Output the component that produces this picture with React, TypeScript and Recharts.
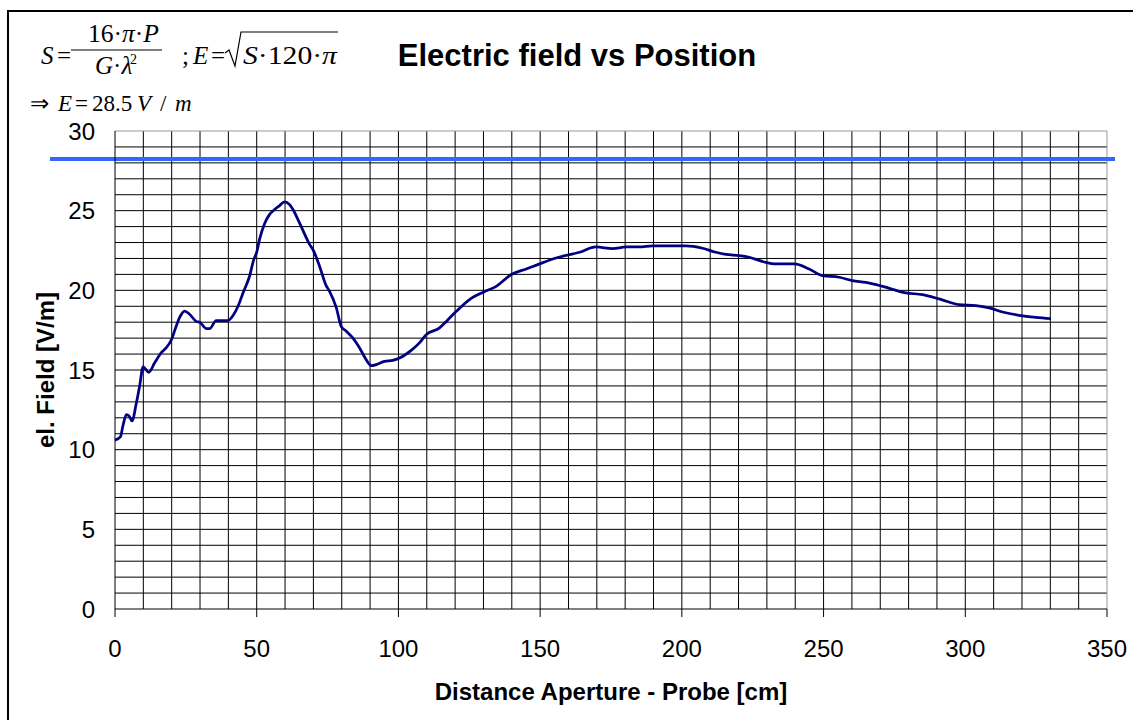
import React from 'react'
import { LineChart, Line, XAxis, YAxis, CartesianGrid, ReferenceLine, Label } from 'recharts'

// measured field along the probe path
const distanceCm = [
  0, 1.9, 2.8, 4, 5, 6, 7.5, 8.7, 9.9, 11.9, 14, 16.4, 18.1, 19.9, 21.5, 22.8, 24.6, 26.3, 28.7, 29.9,
  32.2, 33.4, 35.7, 39.8, 41.6, 43.4, 45.3, 47.5, 48.9, 50, 51, 52.8, 54.5, 56.3, 58.1, 59.8, 61.6, 62.8,
  65.1, 68.7, 70, 72.2, 74.5, 75.7, 78.1, 79.8, 81.6, 83.9, 86.3, 88.6, 90.4, 92.2, 95.1, 98, 100.4,
  104.5, 107.4, 109.8, 114.5, 116.9, 120.4, 125.1, 129.8, 134.5, 139.8, 145.1, 149.8, 155.6, 163.9,
  169.7, 175.6, 180.3, 185, 189.7, 199.1, 201.5, 207.3, 212, 215.6, 220.3, 223.8, 229.1, 233.2, 239.7,
  244.9, 249.6, 255.5, 260.2, 264.9, 270.8, 279, 284.9, 290.8, 297.8, 303.7, 308.4, 313.1, 319, 324.9,
  330.2,
]
const fieldVm = [
  10.6, 10.8, 11.5, 12.2, 12.1, 11.8, 12.9, 14.0, 15.2, 14.85, 15.45, 16.1, 16.4, 16.9, 17.7, 18.3, 18.7,
  18.5, 18.05, 18.0, 17.6, 17.6, 18.1, 18.1, 18.4, 19.0, 19.9, 20.9, 21.9, 22.4, 23.2, 24.2, 24.75, 25.07,
  25.32, 25.55, 25.38, 25.07, 24.23, 22.87, 22.5, 21.5, 20.3, 19.94, 18.9, 17.74, 17.43, 17.01, 16.38,
  15.65, 15.27, 15.34, 15.54, 15.6, 15.75, 16.23, 16.7, 17.22, 17.64, 18.05, 18.68, 19.42, 19.87, 20.25,
  20.99, 21.34, 21.66, 22.03, 22.39, 22.72, 22.62, 22.72, 22.72, 22.79, 22.79, 22.79, 22.64, 22.39,
  22.26, 22.18, 22.07, 21.78, 21.66, 21.66, 21.34, 20.92, 20.82, 20.61, 20.5, 20.25, 19.84, 19.73,
  19.46, 19.1, 19.04, 18.9, 18.64, 18.43, 18.3, 18.22,
]

const xTicks = [0, 50, 100, 150, 200, 250, 300, 350]
const yTicks = [0, 5, 10, 15, 20, 25, 30]
const gridX = [10, 20, 30, 40, 50, 60, 70, 80, 90, 100, 110, 120, 130, 140, 150, 160, 170, 180, 190, 200,
  210, 220, 230, 240, 250, 260, 270, 280, 290, 300, 310, 320, 330, 340]
const gridY = [1, 2, 3, 4, 5, 6, 7, 8, 9, 10, 11, 12, 13, 14, 15, 16, 17, 18, 19, 20, 21, 22, 23, 24, 25,
  26, 27, 28, 29]
const calculatedE = 28.25

const chartData = distanceCm.map((d, i) => ({ d, e: fieldVm[i] }))

const sans = '"Liberation Sans", Arial, sans-serif'
const serif = '"Liberation Serif", "Times New Roman", serif'

// the calculated-field line runs past the plot on both sides
const WideLine = (p: any) => (
  <line x1={p.x1 - 65} y1={p.y1} x2={p.x2 + 8} y2={p.y2} stroke="#3366ff" strokeWidth={4} />
)

const YTitle = ({ viewBox }: any) => {
  const cx = viewBox.x - 10
  const cy = viewBox.y + viewBox.height / 2
  return (
    <text x={cx} y={cy} transform={`rotate(-90 ${cx} ${cy})`} textAnchor="middle" dominantBaseline="central"
      fontFamily={sans} fontSize={24} fontWeight="bold" fill="#000">
      el. Field [V/m]
    </text>
  )
}

function Formula() {
  return (
    <svg width={1133} height={130} style={{ position: 'absolute', left: 0, top: 0 }}>
      <g fontFamily={serif} fill="#000">
        <text x={41} y={63.5} fontSize={25} fontStyle="italic">S</text>
        <text x={57} y={63.5} fontSize={25}>=</text>
        <text x={88} y={42} fontSize={25} textLength={71} lengthAdjust="spacingAndGlyphs">
          16·<tspan fontStyle="italic">π</tspan>·<tspan fontStyle="italic">P</tspan>
        </text>
        <line x1={71} x2={162} y1={50} y2={50} stroke="#000" strokeWidth={1.2} />
        <text x={95} y={74} fontSize={25}>
          <tspan fontStyle="italic">G</tspan>·<tspan fontStyle="italic">λ</tspan>
        </text>
        <text x={130} y={64} fontSize={14}>2</text>
        <text x={182} y={63.5} fontSize={25}>;</text>
        <text x={193} y={63.5} fontSize={25} fontStyle="italic">E</text>
        <text x={211} y={63.5} fontSize={25}>=</text>
        <path d="M225 53 L229 50 L235 66 L241 32 L338 32" fill="none" stroke="#000" strokeWidth={1.2} />
        <text x={243} y={63.5} fontSize={25} textLength={94} lengthAdjust="spacingAndGlyphs">
          <tspan fontStyle="italic">S</tspan>·120·<tspan fontStyle="italic">π</tspan>
        </text>

        <text x={30} y={111} fontSize={23}>⇒</text>
        <text x={58} y={111} fontSize={23} fontStyle="italic">E</text>
        <text x={75} y={111} fontSize={23}>=</text>
        <text x={92} y={111} fontSize={23}>28.5</text>
        <text x={137} y={111} fontSize={23} fontStyle="italic">V</text>
        <text x={160} y={111} fontSize={23}>/</text>
        <text x={175} y={111} fontSize={23} fontStyle="italic">m</text>
      </g>
      <text x={577} y={66} textAnchor="middle" fontFamily={sans} fontSize={31} fontWeight="bold" fill="#000">
        Electric field vs Position
      </text>
    </svg>
  )
}

export default function App() {
  return (
    <div style={{ position: 'relative', width: 1133, height: 720, overflow: 'hidden', background: '#fff' }}>
      <style>{'body{margin:0;overflow:hidden}'}</style>
      <div style={{ position: 'absolute', left: 7, top: 10, width: 1200, height: 800, borderLeft: '2px solid #000', borderTop: '2px solid #000' }} />
      <div style={{ position: 'absolute', left: 0, top: 0 }}>
        <LineChart width={1133} height={720} data={chartData} margin={{ top: 131, right: 26, bottom: 11, left: 55 }}>
          <CartesianGrid stroke="#000" strokeWidth={1} horizontalValues={gridY} verticalValues={gridX} />
          <XAxis dataKey="d" type="number" domain={[0, 350]} ticks={xTicks} interval={0} height={100} tickSize={8} tickMargin={23}
            axisLine={{ stroke: '#000' }} tickLine={{ stroke: '#000' }}
            tick={{ fill: '#000', fontFamily: sans, fontSize: 24 }}>
            <Label value="Distance Aperture - Probe [cm]" position="insideBottom" offset={9}
              style={{ fontFamily: sans, fontSize: 24, fontWeight: 'bold', fill: '#000' }} />
          </XAxis>
          <YAxis type="number" domain={[0, 30]} ticks={yTicks} interval={0} width={60} tickSize={0} tickMargin={20}
            axisLine={{ stroke: '#000' }} tick={{ fill: '#000', fontFamily: sans, fontSize: 24 }}>
            <Label content={<YTitle />} />
          </YAxis>
          <ReferenceLine y={30} stroke="#999" />
          <ReferenceLine x={350} stroke="#999" />
          <Line type="monotone" dataKey="e" stroke="#000080" strokeWidth={2.75} dot={false} isAnimationActive={false} />
          <ReferenceLine y={calculatedE} shape={WideLine} />
        </LineChart>
      </div>
      <Formula />
    </div>
  )
}
